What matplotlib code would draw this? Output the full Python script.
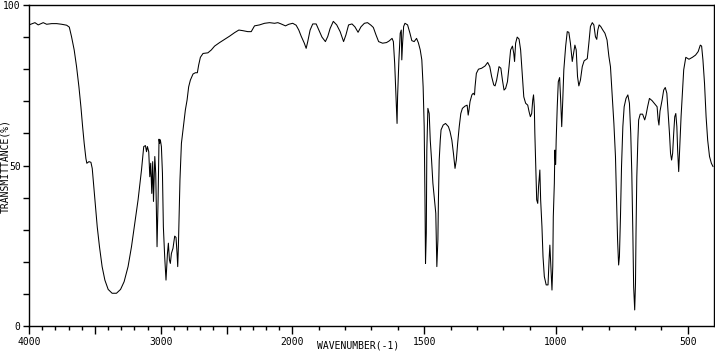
import numpy as np
import matplotlib
matplotlib.use('Agg')
import matplotlib.pyplot as plt

# wavenumber (cm-1) and transmittance (%)
wn = [4000, 3955, 3930, 3892, 3866, 3828, 3790, 3752, 3714, 3694, 3677, 3657,
      3639, 3621, 3606, 3593, 3581, 3568, 3561, 3545, 3530, 3520, 3508, 3495,
      3482, 3465, 3445, 3424, 3399, 3369, 3336, 3305, 3278, 3248, 3222, 3197,
      3172, 3146, 3129, 3116, 3108, 3101, 3091, 3083, 3076, 3068, 3061, 3055,
      3045, 3038, 3028, 3020, 3013, 3008, 3003, 2995, 2987, 2980, 2970, 2960,
      2949, 2942, 2934, 2927, 2919, 2907, 2894, 2884, 2876, 2871, 2866, 2861,
      2854, 2843, 2828, 2813, 2800, 2788, 2775, 2755, 2737, 2722, 2712, 2699,
      2679, 2642, 2616, 2591, 2553, 2515, 2477, 2439, 2407, 2376, 2339, 2313,
      2288, 2250, 2212, 2174, 2136, 2111, 2086, 2053, 2028, 1999, 1986, 1976,
      1967, 1955, 1948, 1942, 1933, 1923, 1910, 1900, 1888, 1875, 1866, 1857,
      1845, 1832, 1819, 1806, 1797, 1787, 1774, 1763, 1751, 1740, 1727, 1715,
      1702, 1693, 1683, 1673, 1658, 1643, 1633, 1622, 1617, 1612, 1607, 1603,
      1601, 1596, 1591, 1587, 1585, 1582, 1578, 1573, 1563, 1554, 1547, 1538,
      1529, 1522, 1515, 1509, 1504, 1500, 1497, 1495, 1492, 1490, 1486, 1481,
      1477, 1472, 1467, 1461, 1456, 1452, 1448, 1446, 1443, 1439, 1436, 1428,
      1419, 1408, 1402, 1395, 1389, 1383, 1378, 1373, 1367, 1361, 1355, 1345,
      1337, 1333, 1330, 1326, 1319, 1314, 1309, 1307, 1302, 1294, 1282, 1269,
      1259, 1251, 1244, 1236, 1231, 1225, 1216, 1209, 1203, 1197, 1191, 1184,
      1178, 1172, 1165, 1160, 1157, 1153, 1147, 1140, 1134, 1128, 1122, 1115,
      1107, 1102, 1097, 1092, 1088, 1085, 1082, 1080, 1077, 1073, 1069, 1066,
      1061, 1058, 1053, 1049, 1044, 1037, 1030, 1026, 1023, 1019, 1015, 1012,
      1010, 1006, 1004, 1001, 999, 995, 991, 986, 982, 978, 974, 970, 963, 957,
      951, 945, 938, 933, 928, 923, 918, 913, 907, 900, 893, 881, 875, 869,
      862, 856, 850, 845, 841, 836, 830, 822, 814, 806, 799, 793, 787, 780,
      774, 770, 766, 762, 759, 755, 751, 746, 741, 734, 727, 721, 716, 712,
      708, 705, 701, 698, 696, 693, 689, 686, 680, 671, 663, 658, 652, 645,
      635, 625, 616, 612, 609, 605, 597, 591, 585, 579, 574, 569, 565, 561,
      557, 553, 549, 545, 541, 538, 534, 530, 525, 520, 515, 507, 495, 482,
      470, 460, 452, 447, 442, 436, 430, 424, 417, 410, 404]
tr = [93.8, 94.5, 93.8, 94.5, 94.0, 94.2, 94.2, 94.0, 93.7, 93.1, 90.1, 86.0,
      80.8, 74.5, 68.3, 62.1, 56.9, 52.2, 50.7, 51.2, 51.0, 49.1, 43.4, 37.2,
      30.9, 24.7, 18.5, 14.3, 11.4, 10.2, 10.2, 11.4, 13.8, 18.5, 24.7, 32.0,
      39.3, 48.6, 55.9, 56.2, 54.3, 55.9, 54.3, 46.5, 50.7, 41.3, 51.2, 38.8,
      52.8, 47.6, 24.7, 39.3, 58.2, 56.9, 58.0, 55.9, 47.6, 30.9, 21.6, 14.3,
      22.6, 25.8, 20.6, 19.5, 22.6, 24.2, 28.0, 27.6, 22.6, 18.5, 24.7, 34.0,
      45.5, 56.9, 62.1, 67.3, 70.4, 74.5, 76.6, 78.5, 78.9, 78.9, 81.3, 83.7,
      84.9, 85.1, 86.0, 87.2, 88.3, 89.3, 90.3, 91.4, 92.2, 92.0, 91.7, 91.7,
      93.5, 93.8, 94.3, 94.5, 94.3, 94.5, 94.1, 93.5, 94.0, 94.3, 93.7, 92.2,
      90.3, 88.1, 86.5, 88.6, 92.2, 94.1, 94.1, 92.2, 90.0, 88.6, 90.2, 92.7,
      94.9, 93.8, 91.7, 88.6, 90.7, 93.8, 94.1, 93.2, 91.5, 93.2, 94.3, 94.5,
      93.7, 93.0, 90.7, 88.6, 88.1, 88.3, 88.8, 89.6, 88.6, 81.8, 71.4, 63.1,
      71.4, 82.9, 91.2, 92.2, 82.9, 88.1, 93.3, 94.3, 93.8, 91.2, 88.9, 88.6,
      89.6, 88.2, 86.0, 82.9, 74.5, 62.1, 39.3, 19.5, 28.9, 54.8, 67.8, 66.2,
      57.9, 51.7, 44.5, 39.3, 35.1, 18.5, 26.8, 39.3, 51.7, 57.9, 61.1, 62.6,
      63.1, 62.1, 60.6, 57.9, 53.8, 49.1, 51.7, 56.9, 62.1, 66.2, 67.8, 68.5,
      68.8, 65.7, 67.3, 69.9, 72.0, 72.5, 72.0, 74.5, 78.7, 80.0, 80.3, 81.0,
      82.1, 80.8, 77.7, 75.1, 74.8, 76.6, 80.8, 80.3, 76.6, 73.5, 74.0, 76.1,
      80.8, 86.0, 87.2, 84.9, 82.4, 88.1, 90.0, 89.4, 86.0, 78.7, 71.4, 69.4,
      68.8, 66.8, 65.2, 66.2, 70.4, 72.0, 68.3, 60.0, 50.7, 39.3, 38.2, 43.4,
      48.6, 39.3, 30.9, 21.6, 15.4, 12.8, 12.8, 20.6, 25.2, 18.5, 11.2, 18.5,
      34.0, 44.5, 54.8, 50.3, 57.9, 68.3, 76.1, 77.4, 70.4, 62.1, 70.4, 79.8, 87.2, 91.7,
      91.5, 88.1, 82.4, 84.9, 87.5, 86.0, 77.7, 74.8, 76.6, 80.8, 82.6, 83.3, 88.1, 93.3,
      94.5, 93.8, 90.1, 89.3, 92.2, 93.8, 93.3, 92.2, 91.2, 89.1, 84.0, 80.8, 72.5, 63.1,
      52.8, 39.3, 26.8, 19.0, 21.6, 34.0, 49.7, 62.1, 68.3, 70.9, 72.0, 69.4, 60.0, 47.6,
      28.9, 12.2, 5.0, 13.3, 28.9, 46.5, 57.9, 64.2, 66.0, 66.0, 64.2, 65.7, 68.3, 70.9,
      70.2, 69.2, 68.3, 64.2, 62.6, 66.9, 70.4, 73.5, 74.3, 72.5, 66.2, 60.0, 53.8, 51.7,
      53.8, 60.0, 65.2, 66.2, 62.1, 54.8, 48.1, 55.9, 65.2, 72.5, 79.8, 83.7, 83.1, 83.7,
      84.4, 85.5, 87.5, 87.2, 82.9, 75.6, 65.2, 57.9, 52.8, 50.7, 49.7]

major = [4000, 3500, 3000, 2500, 2000, 1500, 1000, 500]
major_labels = ['4000', '', '3000', '', '2000', '1500', '1000', '500']


# IR chart: 4000-2000 drawn at half the scale of 2000-400
def fwd(w):
    w = np.asarray(w, dtype=float)
    return np.where(w > 2000, 2000 + (w - 2000) / 2, w)


def inv(u):
    u = np.asarray(u, dtype=float)
    return np.where(u > 2000, 2000 + (u - 2000) * 2, u)


fig = plt.figure(figsize=(7.15, 3.61), dpi=100)
ax = fig.add_axes([29 / 715, 35 / 361, 685 / 715, 321 / 361])
ax.plot(wn, tr, color='black', lw=0.75)
ax.set_xscale('function', functions=(fwd, inv))
ax.set_xlim(4000, 400)
ax.set_ylim(0, 100)

ax.set_xticks(major)
ax.set_xticklabels(major_labels)
ax.set_xticks([w for w in range(3900, 400, -100) if w not in major], minor=True)
ax.set_yticks([0, 50, 100])
ax.set_yticklabels(['0', '50', '100'])
ax.set_yticks(range(10, 100, 10), minor=True)

font = {'family': 'DejaVu Sans Mono', 'size': 7}
for lab in ax.get_xticklabels() + ax.get_yticklabels():
    lab.set_fontfamily('DejaVu Sans Mono')
    lab.set_fontsize(7)
ax.tick_params(axis='x', which='major', length=6, width=1, pad=2)
ax.tick_params(axis='x', which='minor', length=3, width=1)
ax.tick_params(axis='y', which='both', length=4, width=1, pad=2)
for s in ax.spines.values():
    s.set_linewidth(1)

fig.text(358 / 715, 1 - 346 / 361, 'WAVENUMBER(-1)', ha='center', va='center', **font)
fig.text(5 / 715, 1 - 166 / 361, 'TRANSMITTANCE(%)', ha='center', va='center',
         rotation=90, **font)

fig.savefig('out.png', dpi=100)
